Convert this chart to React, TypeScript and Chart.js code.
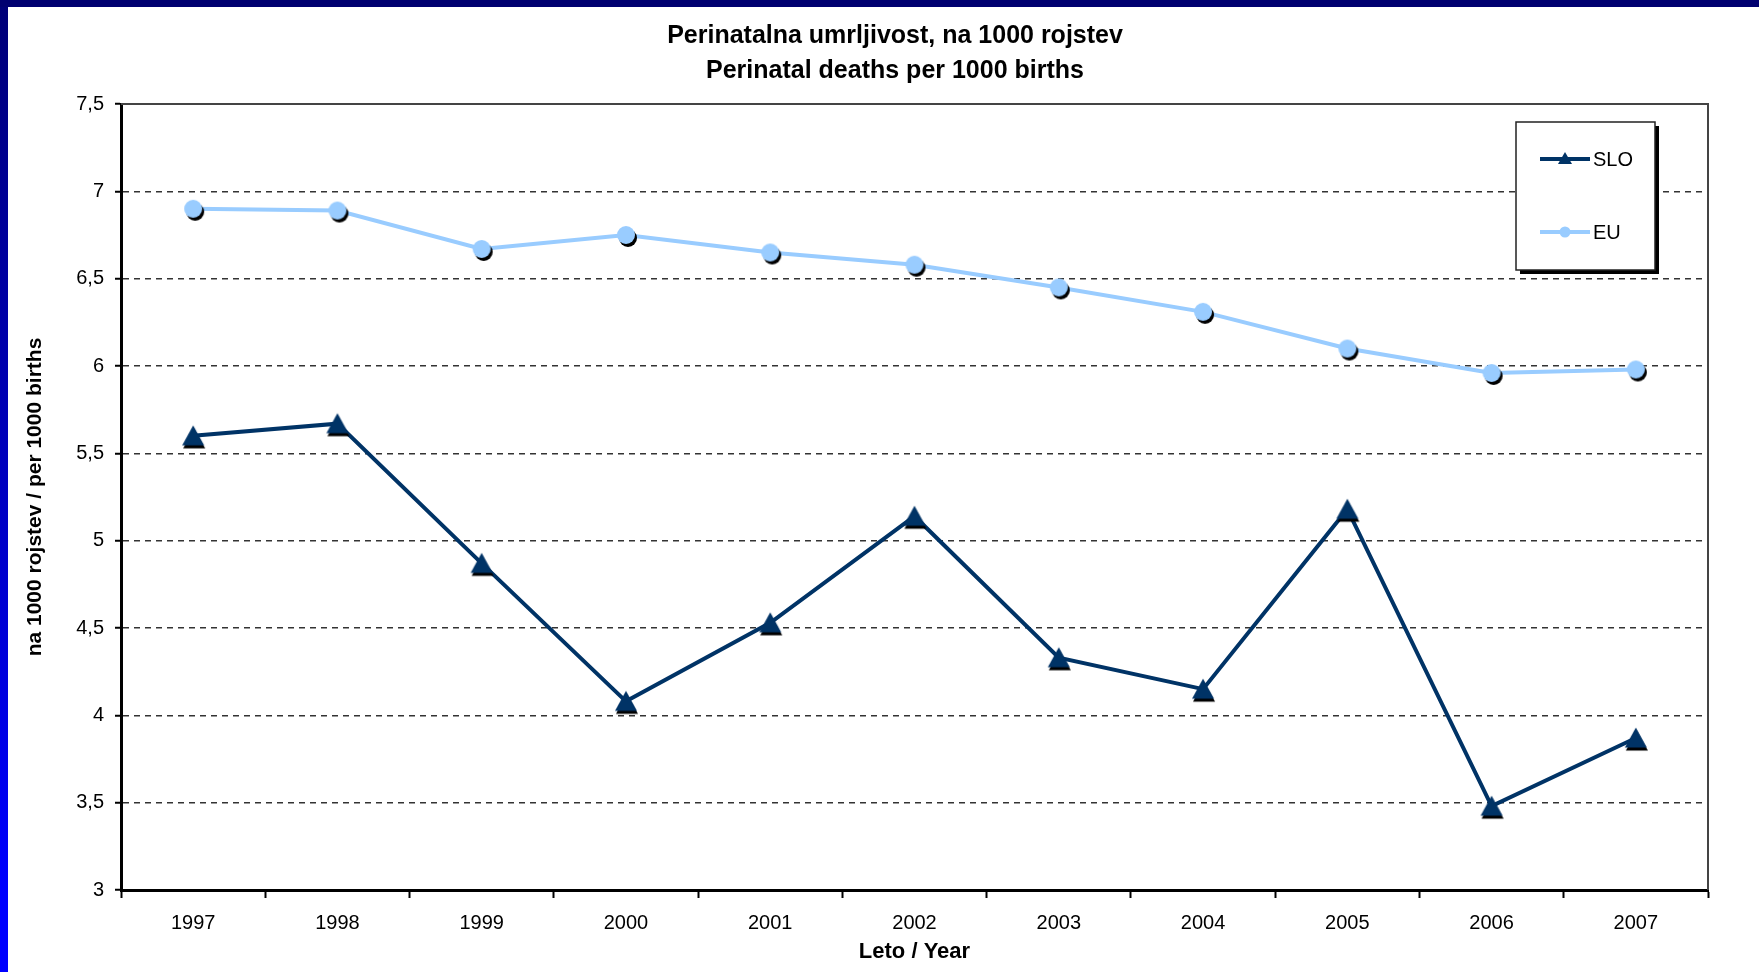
import React, { useEffect, useRef } from 'react';
import { Chart, registerables } from 'chart.js';

Chart.register(...registerables);

const years = ['1997', '1998', '1999', '2000', '2001', '2002', '2003', '2004', '2005', '2006', '2007'];
const sloValues = [5.6, 5.67, 4.87, 4.08, 4.53, 5.14, 4.33, 4.15, 5.18, 3.48, 3.87];
const euValues = [6.9, 6.89, 6.67, 6.75, 6.65, 6.58, 6.45, 6.31, 6.1, 5.96, 5.98];
const seriesNames = ['SLO', 'EU'];
const seriesColors = ['#003366', '#99CCFF'];
const titleLines = ['Perinatalna umrljivost, na 1000 rojstev', 'Perinatal deaths per 1000 births'];
const yAxisTitle = 'na 1000 rojstev / per 1000 births';
const xAxisTitle = 'Leto / Year';
const yMin = 3;
const yMax = 7.5;
const yStep = 0.5;

const FONT = "'Liberation Sans', Arial, Helvetica, sans-serif";

function makeMarker(kind: 'triangle' | 'circle', color: string): HTMLCanvasElement {
  const c = document.createElement('canvas');
  const S = 34;
  c.width = S;
  c.height = S;
  const g = c.getContext('2d') as CanvasRenderingContext2D;
  const cx = S / 2;
  const cy = S / 2;
  const draw = (dx: number, dy: number, fill: string) => {
    g.beginPath();
    if (kind === 'triangle') {
      const w = 22;
      const h = 19;
      g.moveTo(cx + dx, cy - h / 2 - 1 + dy);
      g.lineTo(cx + w / 2 + dx, cy + h / 2 + dy);
      g.lineTo(cx - w / 2 + dx, cy + h / 2 + dy);
      g.closePath();
    } else {
      g.arc(cx + dx, cy + dy, 9, 0, Math.PI * 2);
    }
    g.fillStyle = fill;
    g.fill();
  };
  draw(kind === 'triangle' ? 1 : 2, 3, '#000');
  draw(0, 0, color);
  return c;
}

const framePlugin = {
  id: 'plotFrame',
  beforeDatasetsDraw(chart: any) {
    const { ctx, chartArea } = chart;
    ctx.save();
    ctx.strokeStyle = '#444';
    ctx.lineWidth = 2;
    ctx.beginPath();
    ctx.moveTo(chartArea.left, chartArea.top);
    ctx.lineTo(chartArea.right, chartArea.top);
    ctx.lineTo(chartArea.right, chartArea.bottom);
    ctx.stroke();
    ctx.restore();
  },
};

const legendPlugin = {
  id: 'boxLegend',
  afterDraw(chart: any) {
    const { ctx, chartArea } = chart;
    const bw = 139;
    const bh = 148;
    const bx = chartArea.right - 192;
    const by = chartArea.top + 18;
    ctx.save();
    ctx.fillStyle = '#000';
    ctx.fillRect(bx + 4, by + 4, bw, bh);
    ctx.fillStyle = '#fff';
    ctx.fillRect(bx, by, bw, bh);
    ctx.strokeStyle = '#222';
    ctx.lineWidth = 1.5;
    ctx.strokeRect(bx, by, bw, bh);
    chart.data.datasets.forEach((ds: any, i: number) => {
      const y = by + 37 + i * 73;
      ctx.strokeStyle = ds.borderColor;
      ctx.lineWidth = 4;
      ctx.beginPath();
      ctx.moveTo(bx + 24, y);
      ctx.lineTo(bx + 74, y);
      ctx.stroke();
      ctx.fillStyle = ds.borderColor;
      ctx.beginPath();
      const mx = bx + 49;
      if (i === 0) {
        ctx.moveTo(mx, y - 7);
        ctx.lineTo(mx + 7, y + 5);
        ctx.lineTo(mx - 7, y + 5);
        ctx.closePath();
      } else {
        ctx.arc(mx, y, 5.5, 0, Math.PI * 2);
      }
      ctx.fill();
      ctx.fillStyle = '#000';
      ctx.font = `20px ${FONT}`;
      ctx.textAlign = 'left';
      ctx.textBaseline = 'middle';
      ctx.fillText(ds.label, bx + 77, y + 1);
    });
    ctx.restore();
  },
};

export default function App() {
  const canvasRef = useRef<HTMLCanvasElement | null>(null);

  useEffect(() => {
    const canvas = canvasRef.current;
    if (!canvas) return;
    const triangle = makeMarker('triangle', seriesColors[0]);
    const circle = makeMarker('circle', seriesColors[1]);

    const chart = new Chart(canvas, {
      type: 'line',
      data: {
        labels: years,
        datasets: [
          {
            label: seriesNames[0],
            data: sloValues,
            borderColor: seriesColors[0],
            backgroundColor: seriesColors[0],
            borderWidth: 4,
            pointStyle: triangle as any,
            pointRadius: 10,
            tension: 0,
          },
          {
            label: seriesNames[1],
            data: euValues,
            borderColor: seriesColors[1],
            backgroundColor: seriesColors[1],
            borderWidth: 4,
            pointStyle: circle as any,
            pointRadius: 10,
            tension: 0,
          },
        ],
      },
      options: {
        responsive: false,
        animation: false,
        devicePixelRatio: 1,
        events: [],
        layout: { padding: 0 },
        plugins: {
          legend: { display: false },
          tooltip: { enabled: false },
          title: {
            display: true,
            text: titleLines,
            color: '#000',
            font: { family: FONT, size: 25, weight: 'bold', lineHeight: 35 / 25 },
            padding: { top: 11.5, bottom: 15.5 },
          },
        },
        scales: {
          x: {
            type: 'category',
            offset: true,
            grid: {
              display: true,
              drawOnChartArea: false,
              drawTicks: true,
              tickLength: 8,
              tickWidth: 2,
              tickColor: '#000',
              offset: true,
            },
            border: { display: true, color: '#000', width: 3 },
            ticks: {
              color: '#000',
              font: { family: FONT, size: 20 },
              padding: 13,
              maxRotation: 0,
              autoSkip: false,
            },
            title: {
              display: true,
              text: xAxisTitle,
              color: '#000',
              font: { family: FONT, size: 22, weight: 'bold' },
              padding: { top: 0, bottom: 7 },
            },
            afterFit: (s: any) => {
              s.height = 82;
            },
          },
          y: {
            type: 'linear',
            min: yMin,
            max: yMax,
            ticks: {
              stepSize: yStep,
              color: '#000',
              font: { family: FONT, size: 20 },
              padding: 11,
              callback: (v: any) => String(v).replace('.', ','),
            },
            grid: {
              color: (c: any) =>
                c.tick && (c.tick.value === yMin || c.tick.value === yMax) ? 'rgba(0,0,0,0)' : '#333',
              lineWidth: 1.5,
              tickLength: 6,
              tickColor: '#000',
              tickWidth: 2,
              tickBorderDash: [],
            } as any,
            border: { display: true, color: '#000', width: 3, dash: [6, 5] },
            title: {
              display: true,
              text: yAxisTitle,
              color: '#000',
              font: { family: FONT, size: 21, weight: 'bold', lineHeight: 1.2 },
              padding: { top: 14.4, bottom: 0 },
            },
            afterFit: (s: any) => {
              s.width = 113;
            },
          },
          r: {
            type: 'linear',
            position: 'right',
            display: true,
            ticks: { display: false },
            grid: { display: false },
            border: { display: false },
            afterFit: (s: any) => {
              s.width = 74;
            },
          },
        },
      } as any,
      plugins: [framePlugin, legendPlugin],
    });
    return () => chart.destroy();
  }, []);

  return (
    <div
      style={{
        position: 'fixed',
        left: 0,
        top: 0,
        width: 1759,
        height: 972,
        overflow: 'hidden',
        background: '#fff',
      }}
    >
      <div style={{ position: 'absolute', left: 0, top: 0, width: 1759, height: 7, background: '#000070' }} />
      <div
        style={{
          position: 'absolute',
          left: 0,
          top: 7,
          width: 8,
          height: 965,
          background: 'linear-gradient(to bottom, #000078 0%, #0000FF 92%, #0000FF 100%)',
        }}
      />
      <canvas
        ref={canvasRef}
        width={1774}
        height={965}
        style={{ position: 'absolute', left: 8, top: 7, width: 1774, height: 965 }}
      />
    </div>
  );
}
